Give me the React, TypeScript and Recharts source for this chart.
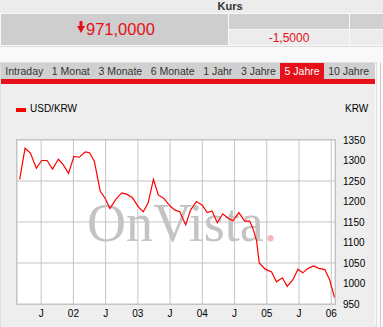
import { LineChart, Line, XAxis, YAxis, CartesianGrid } from "recharts";

// months since Jan 2001
const months = [
  2.0, 3.0, 4.0, 5.1, 6.1, 7.1, 8.1, 9.2, 10.1, 11.1, 12.1, 13.1, 14.2, 15.0, 15.9, 17.0,
  17.9, 18.8, 19.9, 21.0, 21.9, 23.0, 24.1, 25.0, 25.9, 26.9, 27.8, 28.8, 30.0, 30.9, 31.8,
  32.9, 33.8, 34.9, 36.0, 36.9, 37.8, 38.8, 39.8, 40.8, 41.7, 42.8, 43.9, 44.8, 45.4, 46.1,
  46.6, 47.7, 48.9, 49.8, 50.9, 51.8, 52.9, 53.8, 54.7, 55.7, 56.7, 57.7, 58.8, 59.7, 60.6,
];

const usdKrw = [
  1254, 1330, 1318, 1281, 1300, 1300, 1279, 1303, 1290, 1269, 1310, 1308, 1321, 1319, 1298, 1225,
  1208, 1183, 1205, 1221, 1218, 1209, 1187, 1175, 1196, 1254, 1216, 1208, 1189, 1179, 1175,
  1143, 1179, 1200, 1191, 1173, 1177, 1148, 1170, 1159, 1153, 1173, 1152, 1152, 1135, 1104,
  1050, 1035, 1028, 1004, 1014, 993, 1010, 1035, 1026, 1037, 1043, 1037, 1034, 1009, 966,
];

const xTicks = [6, 12, 18, 24, 30, 36, 42, 48, 54, 60];
const xTickLabels = ["J", "02", "J", "03", "J", "04", "J", "05", "J", "06"];
const yTicks = [950, 1000, 1050, 1100, 1150, 1200, 1250, 1300, 1350];

const tabs = ["Intraday", "1 Monat", "3 Monate", "6 Monate", "1 Jahr", "3 Jahre", "5 Jahre", "10 Jahre"];
const activeTab = "5 Jahre";

const data = months.map((t, i) => ({ t, value: usdKrw[i] }));

const RED = "#e5101a";
const FONT = "'Liberation Sans', Arial, sans-serif";

const abs = (s: React.CSSProperties): React.CSSProperties => ({ position: "absolute", ...s });

const App = () => {
  return (
    <div style={{ position: "relative", width: 383, height: 327, background: "#f9f9f9", fontFamily: FONT, overflow: "hidden" }}>
      <style>{"body{margin:0}"}</style>

      {/* header */}
      <div style={abs({ left: 0, top: 0, width: 383, height: 13, background: "#ececec" })} />
      <div style={abs({ left: 200, top: 0, width: 60, height: 13, textAlign: "center", fontSize: 11, fontWeight: "bold", color: "#333", lineHeight: "13px" })}>
        Kurs
      </div>
      <div style={abs({ left: 1, top: 14, width: 227, height: 31, background: "#cecece" })} />
      <svg style={abs({ left: 0, top: 0 })} width={100} height={40}>
        <polygon points="79.5,21 82.5,21 82.5,26 85,26 81,33 77,26 79.5,26" fill={RED} />
      </svg>
      <div style={abs({ left: 86, top: 19, fontSize: 16.5, color: RED, lineHeight: "20px" })}>971,0000</div>
      <div style={abs({ left: 229, top: 14, width: 120, height: 15, background: "#d0d0d0" })} />
      <div style={abs({ left: 229, top: 30, width: 120, height: 15, background: "#ececec" })} />
      <div style={abs({ left: 229, top: 30, width: 120, height: 15, textAlign: "center", fontSize: 12, color: RED, lineHeight: "16px" })}>
        -1,5000
      </div>
      <div style={abs({ left: 350, top: 14, width: 33, height: 15, background: "#d0d0d0" })} />
      <div style={abs({ left: 350, top: 30, width: 33, height: 15, background: "#ececec" })} />
      <div style={abs({ left: 0, top: 46, width: 383, height: 1, background: "#dcdcdc" })} />

      {/* tabs */}
      <div style={abs({ left: 0, top: 62, width: 377, height: 265, border: "1px solid #dedede", boxSizing: "border-box" })} />
      <div style={abs({ left: 1, top: 63, width: 374, height: 16, background: "#d0d0d0", display: "flex", paddingLeft: 0 })}>
        {tabs.map((tab) => (
          <div
            key={tab}
            style={{
              padding: "0 4.3px",
              fontSize: 10.5,
              lineHeight: "16px",
              whiteSpace: "pre",
              color: tab === activeTab ? "#fff" : "#333",
              background: tab === activeTab ? RED : "transparent",
            }}
          >
            {tab}
          </div>
        ))}
      </div>
      <div style={abs({ left: 1, top: 79, width: 374, height: 5, background: RED })} />

      {/* chart panel */}
      <div style={abs({ left: 1, top: 84, width: 374, height: 243, background: "#eeeeee" })} />
      <div style={abs({ left: 380, top: 62, width: 1, height: 265, background: "#cfcfcf" })} />
      <div style={abs({ left: 16, top: 108, width: 10, height: 4, background: "#ff0000" })} />
      <div style={abs({ left: 30, top: 103, fontSize: 10, lineHeight: "12px", color: "#000" })}>USD/KRW</div>
      <div style={abs({ left: 345, top: 103, fontSize: 10, lineHeight: "12px", color: "#000" })}>KRW</div>

      <div style={abs({ left: 16, top: 139, width: 320, height: 166, background: "#fff", border: "1px solid #c4c4c4", boxSizing: "border-box" })} />
      <div style={abs({ left: 87, top: 193, fontFamily: "'Liberation Serif', 'Times New Roman', serif", fontSize: 54, lineHeight: "60px", color: "#c4c4c4", whiteSpace: "pre" })}>
        OnVista<span style={{ color: "#f0b8bc" }}>.</span>
      </div>

      <div style={abs({ left: 0, top: 0 })}>
        <LineChart width={383} height={327} data={data} margin={{ top: 140, right: 8, bottom: 3, left: 17 }}>
          <CartesianGrid stroke="#c4c4c4" />
          <XAxis
            dataKey="t"
            type="number"
            domain={[1.5, 60.7]}
            ticks={xTicks}
            tickFormatter={(v: number) => xTickLabels[xTicks.indexOf(v)]}
            axisLine={false}
            tickLine={false}
            tickMargin={0}
            height={20}
            tick={{ fontSize: 10, fill: "#000", fontFamily: FONT }}
            allowDataOverflow
          />
          <YAxis
            orientation="right"
            domain={[950, 1350]}
            ticks={yTicks}
            axisLine={false}
            tickLine={false}
            width={40}
            tick={{ fontSize: 10, fill: "#000", fontFamily: FONT, textAnchor: "start" }}
            allowDataOverflow
          />
          <Line type="linear" dataKey="value" stroke="#ff0000" strokeWidth={1.2} dot={false} isAnimationActive={false} />
        </LineChart>
      </div>
    </div>
  );
};

export default App;
